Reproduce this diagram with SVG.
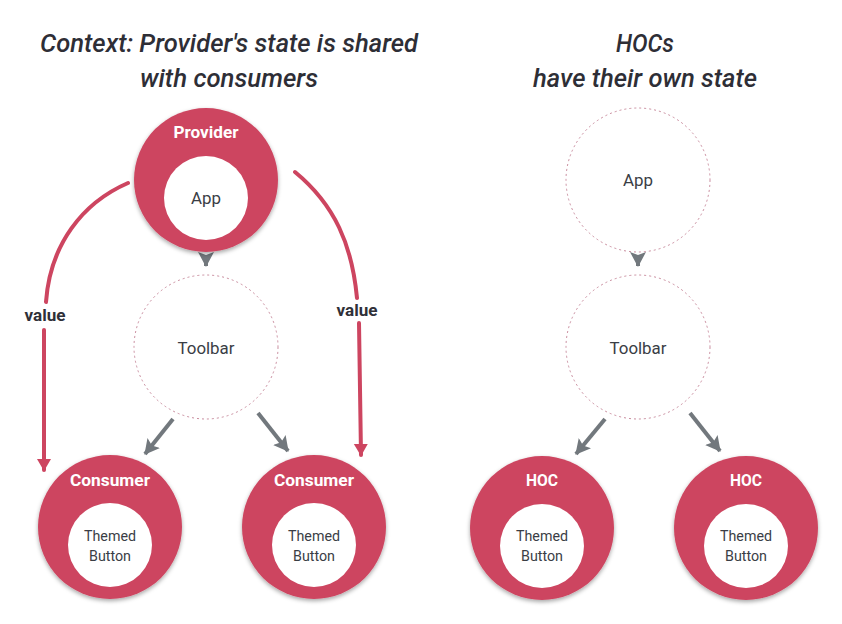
<svg xmlns="http://www.w3.org/2000/svg" width="842" height="624" viewBox="0 0 842 624">
<style>
.title{font-family:Roboto,"Liberation Sans",sans-serif;font-style:italic;font-weight:500;font-size:26px;fill:#2e2e36;text-anchor:middle}
.outer{fill:#cd4560;filter:url(#sh)}
.inner{fill:#ffffff}
.ghost{fill:#ffffff;stroke:#c98c9e;stroke-width:1;stroke-dasharray:2 3}
.wlab{font-family:Roboto,"Liberation Sans",sans-serif;font-weight:bold;font-size:16px;fill:#ffffff;text-anchor:middle}
.dlab{font-family:Roboto,"Liberation Sans",sans-serif;font-size:16px;fill:#3a3d45;text-anchor:middle}
.slab{font-family:Roboto,"Liberation Sans",sans-serif;font-size:14.5px;fill:#3a3d45;text-anchor:middle}
.vlab{font-family:Roboto,"Liberation Sans",sans-serif;font-weight:bold;font-size:16px;fill:#2f3038;text-anchor:middle}
.red{fill:none;stroke:#cd4560;stroke-width:4;stroke-linecap:round}
.gray{fill:none;stroke:#72787d;stroke-width:4}
</style>
<defs>
<filter id="sh" x="-20%" y="-20%" width="140%" height="140%">
<feDropShadow dx="0" dy="2" stdDeviation="2" flood-color="#000" flood-opacity="0.35"/>
</filter>
<marker id="ag" markerUnits="userSpaceOnUse" markerWidth="18" markerHeight="18" refX="14" refY="8" orient="auto">
<path d="M0,0 L15,8 L0,16 L3,8 z" fill="#72787d"/>
</marker>
<marker id="ar" markerUnits="userSpaceOnUse" markerWidth="16" markerHeight="16" refX="11" refY="7" orient="auto">
<path d="M0,0 L12,7 L0,14 z" fill="#cd4560"/>
</marker>
</defs>
<rect width="842" height="624" fill="#ffffff"/>

<text class="title" x="229" y="52" textLength="378" lengthAdjust="spacingAndGlyphs">Context: Provider's state is shared</text>
<text class="title" x="229" y="87" textLength="178" lengthAdjust="spacingAndGlyphs">with consumers</text>
<text class="title" x="645" y="52" textLength="58" lengthAdjust="spacingAndGlyphs">HOCs</text>
<text class="title" x="645" y="87" textLength="224" lengthAdjust="spacingAndGlyphs">have their own state</text>

<g id="connectors">
<path class="red" d="M128,183 C82,203 50,245 46,302"/>
<path class="red" d="M44,330 L44,470" marker-end="url(#ar)"/>
<path class="red" d="M295,172 C335,205 352,245 357,298"/>
<path class="red" d="M359,323 L361,455" marker-end="url(#ar)"/>
<text class="vlab" x="45" y="321" textLength="41" lengthAdjust="spacingAndGlyphs">value</text>
<text class="vlab" x="357" y="316" textLength="41" lengthAdjust="spacingAndGlyphs">value</text>
<path class="gray" d="M206,256 L206,266" marker-end="url(#ag)"/>
<path class="gray" d="M638,256 L638,266" marker-end="url(#ag)"/>
<path class="gray" d="M173,419 L145,454" marker-end="url(#ag)"/>
<path class="gray" d="M258,413 L288,451" marker-end="url(#ag)"/>
<path class="gray" d="M605,419 L576,454" marker-end="url(#ag)"/>
<path class="gray" d="M690,413 L720,451" marker-end="url(#ag)"/>
</g>

<g id="provider">
<circle class="outer" cx="206" cy="180" r="72"/>
<circle class="inner" cx="206" cy="198" r="42"/>
<text class="wlab" x="206" y="138" textLength="65" lengthAdjust="spacingAndGlyphs">Provider</text>
<text class="dlab" x="206" y="204" textLength="30" lengthAdjust="spacingAndGlyphs">App</text>
</g>
<g id="toolbar-left">
<circle class="ghost" cx="206" cy="347" r="72"/>
<text class="dlab" x="206" y="354" textLength="57" lengthAdjust="spacingAndGlyphs">Toolbar</text>
</g>
<g id="consumer-1">
<circle class="outer" cx="110" cy="527" r="72"/>
<circle class="inner" cx="110" cy="545" r="42"/>
<text class="wlab" x="110" y="486" textLength="80" lengthAdjust="spacingAndGlyphs">Consumer</text>
<text class="slab" x="110" y="541" textLength="52" lengthAdjust="spacingAndGlyphs">Themed</text>
<text class="slab" x="110" y="561" textLength="42" lengthAdjust="spacingAndGlyphs">Button</text>
</g>
<g id="consumer-2">
<circle class="outer" cx="314" cy="527" r="72"/>
<circle class="inner" cx="314" cy="545" r="42"/>
<text class="wlab" x="314" y="486" textLength="80" lengthAdjust="spacingAndGlyphs">Consumer</text>
<text class="slab" x="314" y="541" textLength="52" lengthAdjust="spacingAndGlyphs">Themed</text>
<text class="slab" x="314" y="561" textLength="42" lengthAdjust="spacingAndGlyphs">Button</text>
</g>

<g id="app-right">
<circle class="ghost" cx="638" cy="180" r="72"/>
<text class="dlab" x="638" y="186" textLength="30" lengthAdjust="spacingAndGlyphs">App</text>
</g>
<g id="toolbar-right">
<circle class="ghost" cx="638" cy="347" r="72"/>
<text class="dlab" x="638" y="354" textLength="57" lengthAdjust="spacingAndGlyphs">Toolbar</text>
</g>
<g id="hoc-1">
<circle class="outer" cx="542" cy="528" r="72"/>
<circle class="inner" cx="542" cy="546" r="42"/>
<text class="wlab" x="542" y="486" textLength="32" lengthAdjust="spacingAndGlyphs">HOC</text>
<text class="slab" x="542" y="541" textLength="52" lengthAdjust="spacingAndGlyphs">Themed</text>
<text class="slab" x="542" y="561" textLength="42" lengthAdjust="spacingAndGlyphs">Button</text>
</g>
<g id="hoc-2">
<circle class="outer" cx="746" cy="528" r="72"/>
<circle class="inner" cx="746" cy="546" r="42"/>
<text class="wlab" x="746" y="486" textLength="32" lengthAdjust="spacingAndGlyphs">HOC</text>
<text class="slab" x="746" y="541" textLength="52" lengthAdjust="spacingAndGlyphs">Themed</text>
<text class="slab" x="746" y="561" textLength="42" lengthAdjust="spacingAndGlyphs">Button</text>
</g>
</svg>
